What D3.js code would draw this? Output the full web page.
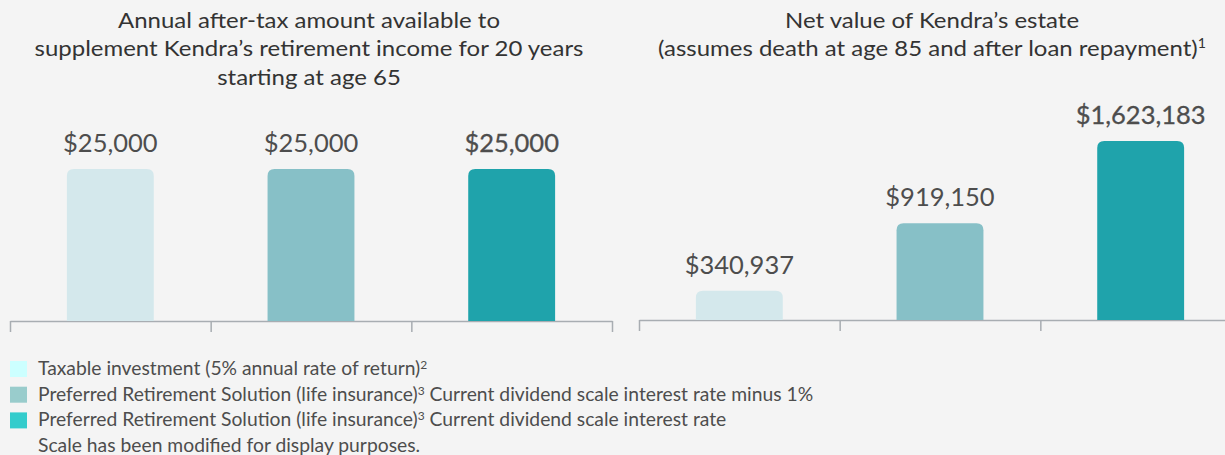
<!DOCTYPE html>
<html>
<head>
<meta charset="utf-8">
<script src="https://cdn.jsdelivr.net/npm/d3@7"></script>
<style>
  html, body { margin: 0; padding: 0; background: #f4f4f4; }
  svg { display: block; font-family: Lato, "Open Sans", sans-serif; }
</style>
</head>
<body>
<div id="chart"></div>
<script>
var svgWidth = 1225;
var svgHeight = 455;

// data
var categories = ["Taxable investment", "PRS minus 1%", "PRS current"];
var incomeValues = [25000, 25000, 25000];
var estateValues = [340937, 919150, 1623183];
var barColors = ["#d4e8ec", "#87c0c7", "#1fa3ab"];
var swatchColors = ["#ccffff", "#99cccc", "#33cccc"];
var legendLabels = [
  ["Taxable investment (5% annual rate of return)", "2", ""],
  ["Preferred Retirement Solution (life insurance)", "3", "Current dividend scale interest rate minus 1%"],
  ["Preferred Retirement Solution (life insurance)", "3", "Current dividend scale interest rate"]
];
var leftTitle = ["Annual after-tax amount available to", "supplement Kendra\u2019s retirement income for 20 years", "starting at age 65"];
var rightTitle = ["Net value of Kendra\u2019s estate", "(assumes death at age 85 and after loan repayment)"];
var footNote = "Scale has been modified for display purposes.";

var fmt = d3.format("$,");

var svg = d3.select("#chart")
  .append("svg")
  .attr("width", svgWidth)
  .attr("height", svgHeight);

svg.append("rect")
  .attr("width", svgWidth)
  .attr("height", svgHeight)
  .attr("fill", "#f4f4f4");

// rounded top corners only
function barPath(x, y, w, h, r) {
  r = Math.min(r, h, w / 2);
  return "M" + x + "," + (y + h) +
    "V" + (y + r) +
    "Q" + x + "," + y + " " + (x + r) + "," + y +
    "H" + (x + w - r) +
    "Q" + (x + w) + "," + y + " " + (x + w) + "," + (y + r) +
    "V" + (y + h) + "Z";
}

function drawPanel(opts) {
  var g = svg.append("g");

  var x = d3.scaleBand()
    .domain(categories)
    .range(opts.xRange)
    .paddingInner(0.567)
    .paddingOuter(0.2835);

  var y = d3.scaleLinear()
    .domain(opts.yDomain)
    .range([opts.baseY, opts.topY]);

  // axis with ticks at band edges
  var edge = d3.scaleLinear().domain([0, 3]).range(opts.xRange);
  var axis = g.append("g")
    .attr("transform", "translate(0," + opts.baseY + ")")
    .call(d3.axisBottom(edge).tickValues([0, 1, 2, 3]).tickSize(11).tickSizeOuter(0).tickFormat(""));
  axis.selectAll("path, line").attr("stroke", "#a8adb2").attr("stroke-width", 1.5);

  g.selectAll(".bar")
    .data(opts.values)
    .enter()
    .append("path")
    .attr("class", "bar")
    .attr("d", (d, i) => barPath(x(categories[i]), y(d), x.bandwidth(), opts.baseY - y(d), 7))
    .attr("fill", (d, i) => barColors[i]);

  g.selectAll(".val")
    .data(opts.values)
    .enter()
    .append("text")
    .attr("class", "val")
    .attr("x", (d, i) => x(categories[i]) + x.bandwidth() / 2)
    .attr("y", d => y(d) - 17)
    .attr("text-anchor", "middle")
    .attr("font-size", "25.5px")
    .attr("fill", "#4d4d4d")
    .attr("stroke", (d, i) => i == 2 ? "#4d4d4d" : "none")
    .attr("stroke-width", 0.3)
    .text(d => fmt(d));

  // the original title lettering is a little wide
  var title = g.append("text")
    .attr("text-anchor", "middle")
    .attr("font-size", "22px")
    .attr("fill", "#333")
    .attr("transform", "translate(" + opts.titleX + ",0) scale(1.09,1)");
  opts.title.forEach((line, i) => {
    title.append("tspan")
      .attr("x", 0)
      .attr("y", 28 + i * 28.5)
      .text(line);
  });
  if (opts.titleSup) {
    title.append("tspan")
      .attr("font-size", "13px")
      .attr("dy", "-8")
      .text(opts.titleSup);
  }
}

drawPanel({
  xRange: [10, 612],
  baseY: 321,
  topY: 169,
  yDomain: [0, 25000],
  values: incomeValues,
  title: leftTitle,
  titleX: 309
});

drawPanel({
  xRange: [639, 1241],
  baseY: 320,
  topY: 141,
  yDomain: [90000, 1623183],   // display scale was modified in the original
  values: estateValues,
  title: rightTitle,
  titleX: 932,
  titleSup: "1"
});

// legend
var legend = svg.append("g").attr("transform", "translate(10, 361)");
legendLabels.forEach((l, i) => {
  legend.append("rect")
    .attr("x", 0)
    .attr("y", i * 25.7)
    .attr("width", 17)
    .attr("height", 16)
    .attr("fill", swatchColors[i]);
  var t = legend.append("text")
    .attr("x", 28)
    .attr("y", 14 + i * 25.7)
    .attr("font-size", "19.3px")
    .attr("fill", "#4d4d4d");
  t.append("tspan").text(l[0]);
  t.append("tspan").attr("font-size", "12px").attr("dy", "-6").text(l[1]);
  if (l[2]) t.append("tspan").attr("dy", "6").text(" " + l[2]);
});
legend.append("text")
  .attr("x", 28)
  .attr("y", 14 + 3 * 25.7)
  .attr("font-size", "19.3px")
  .attr("fill", "#4d4d4d")
  .text(footNote);
</script>
</body>
</html>
